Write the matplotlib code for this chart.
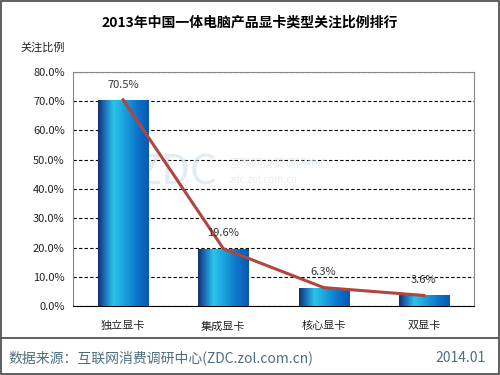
import numpy as np
import matplotlib
matplotlib.use("Agg")
from matplotlib import pyplot as plt
from matplotlib.colors import LinearSegmentedColormap
from matplotlib.patches import Rectangle

plt.rcParams['font.family'] = ['Noto Sans CJK SC', 'DejaVu Sans']

title = "2013年中国一体电脑产品显卡类型关注比例排行"
categories = ["独立显卡", "集成显卡", "核心显卡", "双显卡"]
values = [70.5, 19.6, 6.3, 3.6]
yticks = [0, 10, 20, 30, 40, 50, 60, 70, 80]
source = "数据来源：互联网消费调研中心(ZDC.zol.com.cn)"
date = "2014.01"

fig = plt.figure(figsize=(5, 3.75), dpi=100)
ax = fig.add_axes([0.146, 0.184, 0.802, 0.624])

# cylinder-like gradient for the bars
bar_cmap = LinearSegmentedColormap.from_list("cyl", [
    (0.0, "#16306e"), (0.12, "#1a6cb8"), (0.3, "#2ac4ea"),
    (0.45, "#1eaee0"), (0.75, "#0d78cc"), (1.0, "#0a58b0")])
grad = np.linspace(0, 1, 64).reshape(1, -1)

width = 0.5
x = np.arange(len(categories))
bars = ax.bar(x, values, width=width, color="none", zorder=3)
for b in bars:
    x0, y0 = b.get_x(), b.get_y()
    im = ax.imshow(grad, cmap=bar_cmap, aspect="auto", zorder=3,
                   extent=[x0, x0 + b.get_width(), y0, y0 + b.get_height()])
    im.set_clip_path(b)

ax.plot(x, values, color="#b0463f", lw=2.2, zorder=4)

for xi, v in zip(x, values):
    ax.text(xi, v + 3.5, f"{v:.1f}%", ha="center", va="bottom",
            fontsize=8, color="#333333", zorder=5)

ax.set_xlim(-0.5, len(categories) - 0.5)
ax.set_ylim(0, 80)
ax.set_yticks(yticks)
ax.set_yticklabels([f"{t:.1f}%" for t in yticks], fontsize=8, color="#222222")
ax.set_xticks(x)
ax.set_xticklabels(categories, fontsize=8, color="#222222")
ax.tick_params(length=0, pad=6)
ax.tick_params(axis="x", pad=11)
ax.grid(axis="y", color="black", ls=(0, (3, 2)), lw=0.8, zorder=1)
ax.set_axisbelow(True)
for s in ax.spines.values():
    s.set_color("#888888")
    s.set_linewidth(0.8)
ax.spines["bottom"].set_color("black")
ax.set_facecolor("white")

# faint watermark
ax.text(0.26, 0.57, "ZDC", transform=ax.transAxes, fontsize=30, color="#cfe0ee",
        alpha=0.6, ha="center", va="center", style="italic", zorder=2)
ax.text(0.39, 0.61, "互联网消费调研中心", transform=ax.transAxes, fontsize=8,
        color="#d8e2ea", alpha=0.6, ha="left", va="center", zorder=2)
ax.text(0.39, 0.54, "zdc.zol.com.cn", transform=ax.transAxes, fontsize=7,
        color="#d8e2ea", alpha=0.6, ha="left", va="center", zorder=2)

fig.text(0.5, 0.94, title, ha="center", va="center", fontsize=10,
         fontweight="bold", color="black")
fig.text(0.04, 0.872, "关注比例", ha="left", va="center", fontsize=8, color="#222222")

# footer
fig.add_artist(plt.Line2D([0.004, 0.996], [0.099, 0.099], color="#444444", lw=1.2))
fig.text(0.016, 0.045, source, ha="left", va="center", fontsize=10, color="#4e6e7e")
fig.text(0.972, 0.045, date, ha="right", va="center", fontsize=10, color="#4e6e7e")

fig.add_artist(Rectangle((0.002, 0.003), 0.996, 0.994, transform=fig.transFigure,
                         fill=False, ec="#444444", lw=1.2))

fig.savefig("out.png", dpi=100)
